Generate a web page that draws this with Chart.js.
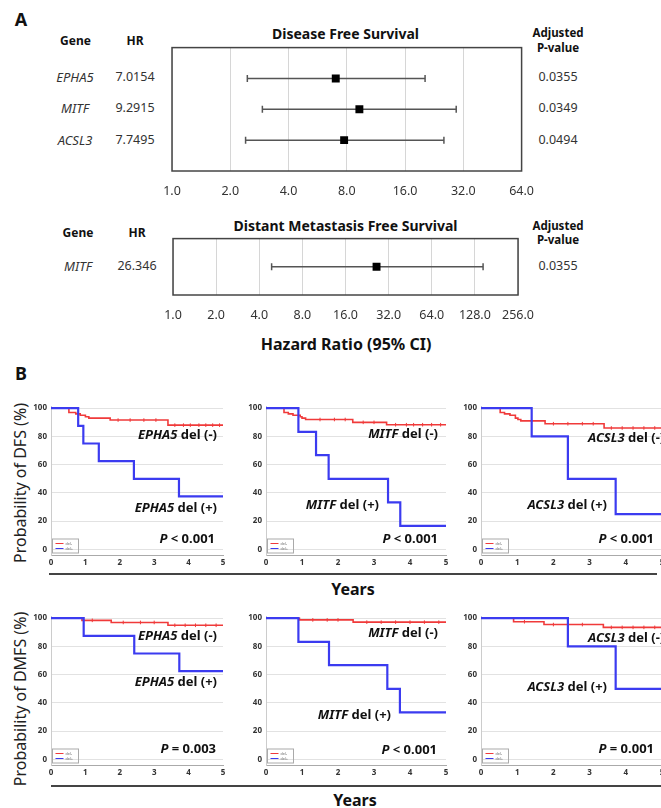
<!DOCTYPE html>
<html><head><meta charset="utf-8">
<script src="https://cdn.jsdelivr.net/npm/chart.js@4.4.1/dist/chart.umd.min.js"></script>
<style>
html,body{margin:0;padding:0;background:#fff;}
body{width:661px;height:808px;position:relative;overflow:hidden;font-family:'Noto Sans',sans-serif;color:#111;}
.t{position:absolute;white-space:nowrap;line-height:1;}
canvas{position:absolute;}
.sep{position:absolute;height:2px;background:#444;}
</style></head><body>
<div class="sep" style="left:49px;top:573px;width:608px;"></div>
<div class="sep" style="left:51px;top:785px;width:610px;"></div>
<script>
// ---------- Panel A data ----------
const dfsGenes = ['EPHA5', 'MITF', 'ACSL3'];
const dfsHR = [7.0154, 9.2915, 7.7495];
const dfsLow = [2.45, 2.93, 2.40];
const dfsHigh = [20.3, 29.4, 25.4];
const dfsP = ['0.0355', '0.0349', '0.0494'];
const dfsTicks = [1, 2, 4, 8, 16, 32, 64];

const dmfsGenes = ['MITF'];
const dmfsHR = [26.346];
const dmfsLow = [4.88];
const dmfsHigh = [146];
const dmfsP = ['0.0355'];
const dmfsTicks = [1, 2, 4, 8, 16, 32, 64, 128, 256];

// ---------- Panel B data: [years, survival %] ----------
const yearTicks = [0, 1, 2, 3, 4, 5];
const probTicks = [0, 20, 40, 60, 80, 100];

const dfsEPHA5Neg = [[0,100],[0.52,97],[0.72,96],[0.85,95],[1.0,94],[1.1,93],[1.72,91.6],[3.4,88],[5,88]];
const dfsEPHA5Pos = [[0,100],[0.79,87.5],[0.94,75],[1.39,62.5],[2.41,50],[3.72,37.5],[5,37.5]];
const dfsEPHA5Cens = [[1.95,91.6],[2.3,91.6],[2.7,91.6],[3.05,91.6],[3.6,88],[3.85,88],[4.05,88],[4.3,88],[4.5,88],[4.7,88],[4.9,88]];
const dfsMITFNeg  = [[0,100],[0.5,97],[0.62,96],[0.75,95],[0.95,94],[1.0,93],[1.1,92],[2.41,90],[3.35,88.3],[5,88.3]];
const dfsMITFPos  = [[0,100],[0.9,83.3],[1.39,66.7],[1.74,50],[3.39,33.3],[3.73,16.7],[5,16.7]];
const dfsMITFCens = [[1.5,92],[1.9,92],[2.2,92],[2.7,90],[3.0,90],[3.6,88.3],[3.9,88.3],[4.1,88.3],[4.35,88.3],[4.6,88.3],[4.85,88.3]];
const dfsACSL3Neg = [[0,100],[0.53,97],[0.65,96],[0.8,95],[0.95,93],[1.02,92],[1.1,91],[1.77,89],[3.4,86],[5,86]];
const dfsACSL3Pos = [[0,100],[1.4,80],[2.4,50],[3.72,25],[5,25]];
const dfsACSL3Cens = [[2.0,89],[2.4,89],[2.8,89],[3.1,89],[3.6,86],[3.9,86],[4.2,86],[4.5,86],[4.8,86]];

const dmfsEPHA5Neg = [[0,100],[0.9,98.5],[1.75,97],[3.4,95],[5,95]];
const dmfsEPHA5Pos = [[0,100],[0.95,87.5],[2.42,75],[3.73,62.5],[5,62.5]];
const dmfsEPHA5Cens = [[1.2,98.5],[2.1,97],[2.6,97],[3.0,97],[3.6,95],[3.9,95],[4.2,95],[4.5,95],[4.8,95]];
const dmfsMITFNeg  = [[0,100],[0.93,98.8],[2.42,97.2],[5,97.2]];
const dmfsMITFPos  = [[0,100],[0.9,83.3],[1.75,66.7],[3.37,50],[3.72,33.3],[5,33.3]];
const dmfsMITFCens = [[1.3,98.8],[1.7,98.8],[2.0,98.8],[2.8,97.2],[3.2,97.2],[3.6,97.2],[4.0,97.2],[4.4,97.2],[4.8,97.2]];
const dmfsACSL3Neg = [[0,100],[0.9,97.5],[1.74,95.5],[3.38,93.5],[5,93.5]];
const dmfsACSL3Pos = [[0,100],[2.4,80],[3.72,50],[5,50]];
const dmfsACSL3Cens = [[1.2,97.5],[2.0,95.5],[2.4,95.5],[2.8,95.5],[3.6,93.5],[3.9,93.5],[4.2,93.5],[4.5,93.5],[4.8,93.5]];

const RED = '#f03a3a', BLUE = '#3b3bf0';

Chart.defaults.font.family = "'Noto Sans', sans-serif";
Chart.defaults.animation = false;

function label(html, x, y, style, anchor) {
  const d = document.createElement('div');
  d.className = 't';
  d.innerHTML = html;
  d.style.cssText += style;
  d.style.left = x + 'px';
  d.style.top = y + 'px';
  const tx = anchor === 'left' ? '0' : anchor === 'right' ? '-100%' : '-50%';
  d.style.transform = 'translate(' + tx + ',-50%)';
  document.body.appendChild(d);
  return d;
}
function makeCanvas(left, top, w, h) {
  const c = document.createElement('canvas');
  c.width = w; c.height = h;
  c.style.left = left + 'px'; c.style.top = top + 'px';
  c.style.width = w + 'px'; c.style.height = h + 'px';
  document.body.appendChild(c);
  return c;
}

const boxPlugin = {
  id: 'box',
  afterDraw(chart) {
    const a = chart.chartArea, ctx = chart.ctx;
    ctx.save();
    ctx.strokeStyle = '#444'; ctx.lineWidth = 1.5;
    ctx.strokeRect(a.left, a.top, a.right - a.left, a.bottom - a.top);
    ctx.restore();
  }
};

function makeForest(boxL, boxR, boxT, boxB, genes, hr, lo, hi, ticks) {
  const padX = 25, padT = 5, axisH = 30;
  const c = makeCanvas(boxL - padX, boxT - padT, boxR - boxL + 2 * padX, boxB - boxT + padT + axisH);
  const datasets = [];
  genes.forEach((g, i) => {
    datasets.push({
      data: [{x: lo[i], y: i + 1}, {x: hi[i], y: i + 1}],
      showLine: true, borderColor: '#555', borderWidth: 1.5,
      pointStyle: 'line', pointRotation: 90, pointRadius: 3.5,
      pointBorderColor: '#555', pointBorderWidth: 1.5, pointBackgroundColor: '#555'
    });
  });
  datasets.unshift({
    data: hr.map((v, i) => ({x: v, y: i + 1})),
    pointStyle: 'rect', pointRadius: 5.6, backgroundColor: '#000', borderColor: '#000', borderWidth: 0
  });
  new Chart(c, {
    type: 'scatter',
    data: {datasets},
    options: {
      responsive: false, devicePixelRatio: 1,
      layout: {padding: {left: padX, right: padX, top: padT, bottom: 0}},
      plugins: {legend: {display: false}, tooltip: {enabled: false}},
      scales: {
        x: {
          type: 'logarithmic', min: ticks[0], max: ticks[ticks.length - 1],
          afterBuildTicks: s => { s.ticks = ticks.map(v => ({value: v})); },
          afterFit: s => { s.height = axisH; },
          ticks: {callback: v => Number(v).toFixed(1), font: {size: 12.5}, color: '#333',
                  padding: 13, maxRotation: 0, autoSkip: false},
          grid: {color: '#d6d6d6', drawTicks: false, lineWidth: 1},
          border: {display: false}
        },
        y: {type: 'linear', display: false, min: 0, max: genes.length + 1, reverse: true}
      }
    },
    plugins: [boxPlugin]
  });
}

const legendPlugin = {
  id: 'kmLegend',
  afterDraw(chart) {
    const a = chart.chartArea, ctx = chart.ctx;
    const x = a.left + 1.5, y = a.bottom - 16;
    ctx.save();
    ctx.strokeStyle = '#aaa'; ctx.lineWidth = 1;
    ctx.strokeRect(x, y, 26, 14);
    ctx.lineWidth = 1;
    ctx.strokeStyle = RED; ctx.beginPath(); ctx.moveTo(x + 3, y + 4.5); ctx.lineTo(x + 11, y + 4.5); ctx.stroke();
    ctx.strokeStyle = BLUE; ctx.beginPath(); ctx.moveTo(x + 3, y + 9.5); ctx.lineTo(x + 11, y + 9.5); ctx.stroke();
    ctx.fillStyle = '#777'; ctx.font = '4px sans-serif'; ctx.textBaseline = 'middle';
    ctx.fillText('del-', x + 13, y + 4.5);
    ctx.fillText('del+', x + 13, y + 9.5);
    ctx.restore();
  }
};

function makeKM(plotL, plotR, plotT, plotB, neg, pos, cens) {
  const yAxisW = 30, padT = 6, padR = 6, axisH = 16;
  const c = makeCanvas(plotL - yAxisW, plotT - padT, plotR - plotL + yAxisW + padR, plotB - plotT + padT + axisH);
  new Chart(c, {
    type: 'line',
    data: {datasets: [
      {data: pos.map(p => ({x: p[0], y: p[1]})), stepped: true, borderColor: BLUE, borderWidth: 2.2, pointRadius: 0, fill: false},
      {data: neg.map(p => ({x: p[0], y: p[1]})), stepped: true, borderColor: RED, borderWidth: 1.6, pointRadius: 0, fill: false},
      {data: cens.map(p => ({x: p[0], y: p[1]})), showLine: false, pointStyle: 'line', pointRotation: 90,
       pointRadius: 1.8, pointBorderColor: RED, pointBorderWidth: 1, borderColor: RED}
    ]},
    options: {
      responsive: false, devicePixelRatio: 1,
      layout: {padding: {left: 0, right: padR, top: padT, bottom: 0}},
      plugins: {legend: {display: false}, tooltip: {enabled: false}},
      scales: {
        x: {
          type: 'linear', min: 0, max: 5,
          afterBuildTicks: s => { s.ticks = yearTicks.map(v => ({value: v})); },
          afterFit: s => { s.height = axisH; },
          ticks: {font: {size: 8, weight: 'bold'}, color: '#333', padding: 3, maxRotation: 0},
          grid: {display: false, drawTicks: false},
          border: {color: '#aaa', width: 1}
        },
        y: {
          type: 'linear', min: -4, max: 101,
          afterBuildTicks: s => { s.ticks = probTicks.map(v => ({value: v})); },
          afterFit: s => { s.width = yAxisW; },
          ticks: {font: {size: 8, weight: 'bold'}, color: '#333', padding: 4},
          grid: {color: '#e2e2e2', drawTicks: false, lineWidth: 1},
          border: {color: '#ccc', width: 1}
        }
      }
    },
    plugins: [legendPlugin]
  });
}

// ---------- Panel A ----------
const H = 'font-weight:bold;color:#111;';
label('A', 21, 19, 'font-weight:bold;font-size:18px;');
// DFS forest
label('Gene', 75.5, 41, H + 'font-size:12px;');
label('HR', 135, 41, H + 'font-size:12px;');
label('Disease Free Survival', 345.5, 34, H + 'font-size:14px;');
label('Adjusted', 558, 33, H + 'font-size:11.5px;');
label('P-value', 558, 48, H + 'font-size:11.5px;');
const dfsRowY = [77, 108, 140];
dfsGenes.forEach((g, i) => {
  label(g, 75, dfsRowY[i], 'font-style:italic;font-size:13px;color:#333;');
  label(String(dfsHR[i]), 135, dfsRowY[i], 'font-size:12.5px;color:#333;');
  label(dfsP[i], 558, dfsRowY[i], 'font-size:12.5px;color:#333;');
});
makeForest(172, 522, 47, 171, dfsGenes, dfsHR, dfsLow, dfsHigh, dfsTicks);

// DMFS forest
label('Gene', 78, 233, H + 'font-size:12px;');
label('HR', 137, 233, H + 'font-size:12px;');
label('Distant Metastasis Free Survival', 345.5, 226, H + 'font-size:14px;');
label('Adjusted', 558, 226, H + 'font-size:11.5px;');
label('P-value', 558, 240, H + 'font-size:11.5px;');
dmfsGenes.forEach((g, i) => {
  label(g, 78, 266, 'font-style:italic;font-size:13px;color:#333;');
  label(String(dmfsHR[i]), 137, 266, 'font-size:12.5px;color:#333;');
  label(dmfsP[i], 558, 266, 'font-size:12.5px;color:#333;');
});
makeForest(173, 522, 238, 295, dmfsGenes, dmfsHR, dmfsLow, dmfsHigh, dmfsTicks);
label('Hazard Ratio (95% CI)', 346, 344, H + 'font-size:16px;');

// ---------- Panel B ----------
label('B', 21, 373, 'font-weight:bold;font-size:18px;');
const ylab = (txt, y) => {
  const d = label(txt, 20, y, 'font-size:16px;color:#222;');
  d.style.transform = 'translate(-50%,-50%) rotate(-90deg)';
};
ylab('Probability of DFS (%)', 483);
ylab('Probability of DMFS (%)', 699);
label('Years', 353, 589, H + 'font-size:16px;');
label('Years', 355, 800, H + 'font-size:16px;');

makeKM(51, 223, 404, 555, dfsEPHA5Neg, dfsEPHA5Pos, dfsEPHA5Cens);
makeKM(266, 446, 404, 555, dfsMITFNeg, dfsMITFPos, dfsMITFCens);
makeKM(481, 662, 404, 555, dfsACSL3Neg, dfsACSL3Pos, dfsACSL3Cens);
makeKM(51, 223, 614, 765, dmfsEPHA5Neg, dmfsEPHA5Pos, dmfsEPHA5Cens);
makeKM(266, 446, 614, 765, dmfsMITFNeg, dmfsMITFPos, dmfsMITFCens);
makeKM(481, 662, 614, 765, dmfsACSL3Neg, dmfsACSL3Pos, dmfsACSL3Cens);

const A = 'font-weight:bold;font-size:13px;color:#111;';
const del = (g, s) => '<i>' + g + '</i> del (' + s + ')';
const pv = (op, v) => '<i>P</i> ' + op + ' ' + v;
// DFS annotations
label(del('EPHA5', '-'), 217, 434, A, 'right');
label(del('EPHA5', '+'), 217, 507, A, 'right');
label(pv('&lt;', '0.001'), 215, 538, A, 'right');
label(del('MITF', '-'), 438, 433, A, 'right');
label(del('MITF', '+'), 379, 504, A, 'right');
label(pv('&lt;', '0.001'), 438, 538, A, 'right');
label(del('ACSL3', '-'), 588, 437, A, 'left');
label(del('ACSL3', '+'), 607, 504, A, 'right');
label(pv('&lt;', '0.001'), 654, 538, A, 'right');
// DMFS annotations
label(del('EPHA5', '-'), 217, 635, A, 'right');
label(del('EPHA5', '+'), 217, 681, A, 'right');
label(pv('=', '0.003'), 216, 748, A, 'right');
label(del('MITF', '-'), 438, 632, A, 'right');
label(del('MITF', '+'), 391, 714, A, 'right');
label(pv('&lt;', '0.001'), 437, 749, A, 'right');
label(del('ACSL3', '-'), 588, 637, A, 'left');
label(del('ACSL3', '+'), 607, 686, A, 'right');
label(pv('=', '0.001'), 654, 748, A, 'right');
</script>
</body></html>
